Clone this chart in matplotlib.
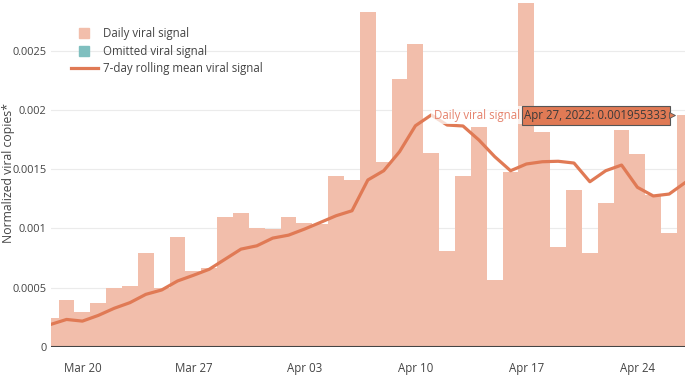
import matplotlib
matplotlib.use('Agg')
import matplotlib.pyplot as plt
import matplotlib.dates as mdates
import matplotlib.transforms as mtransforms
from matplotlib.lines import Line2D
import pandas as pd

plt.rcParams['font.family'] = ['Open Sans', 'DejaVu Sans']

dates = pd.date_range('2022-03-18', '2022-04-27', freq='D')

daily_signal = [
    0.000246, 0.000392, 0.000297, 0.000367, 0.000494, 0.000511, 0.000788,
    0.000494, 0.000929, 0.000641, 0.000669, 0.001096, 0.001130, 0.001005,
    0.000994, 0.001100, 0.001048, 0.001040, 0.001443, 0.001409, 0.002825,
    0.001563, 0.002262, 0.002557, 0.001634, 0.000812, 0.001443, 0.001859,
    0.000564, 0.001476, 0.002901, 0.001812, 0.000840, 0.001324, 0.000795,
    0.001212, 0.001831, 0.001628, 0.001280, 0.000959, 0.001955333,
]

rolling_mean = [
    0.000189, 0.000231, 0.000217, 0.000265, 0.000325, 0.000373, 0.000443,
    0.000480, 0.000556, 0.000604, 0.000655, 0.000740, 0.000825, 0.000853,
    0.000918, 0.000943, 0.000994, 0.001050, 0.001107, 0.001149, 0.001409,
    0.001487, 0.001648, 0.001867, 0.001958, 0.001873, 0.001865, 0.001747,
    0.001606, 0.001487, 0.001544, 0.001563, 0.001567, 0.001552, 0.001394,
    0.001487, 0.001535, 0.001347, 0.001274, 0.001290, 0.001386,
]

y_ticks = [0, 0.0005, 0.001, 0.0015, 0.002, 0.0025]
x_ticks = ['2022-03-20', '2022-03-27', '2022-04-03', '2022-04-10',
           '2022-04-17', '2022-04-24']

hover_date = dates[-1]
hover_value = daily_signal[-1]

BAR = '#F2BEAB'
LINE = '#E07A55'
TEAL = '#7FBFBF'
TXT = '#444444'

fig = plt.figure(figsize=(6.88, 3.78), dpi=100)
ax = fig.add_axes([50.7 / 688, 1 - 346.8 / 378, (685 - 50.7) / 688, 346.8 / 378])

ax.bar(dates, daily_signal, width=1.0, color=BAR, align='center', zorder=2)
ax.plot(dates, rolling_mean, color=LINE, linewidth=2.3, zorder=3,
        solid_joinstyle='round')

ax.set_xlim(dates[0], dates[-1])
ax.set_ylim(0, 0.002929)

ax.set_yticks(y_ticks)
ax.set_yticklabels([f'{v:g}' for v in y_ticks])
ax.set_xticks(pd.to_datetime(x_ticks))
ax.xaxis.set_major_formatter(mdates.DateFormatter('%b %d'))

ax.grid(axis='y', color='#EBEBEB', linewidth=0.8, zorder=0)
ax.axhline(0, color=TXT, linewidth=1.5, zorder=4)
for s in ax.spines.values():
    s.set_visible(False)
ax.tick_params(axis='both', length=0, labelsize=8.3, colors=TXT)
ax.tick_params(axis='y', labelsize=7.9, pad=3)
ax.tick_params(axis='x', pad=11)

ax.set_ylabel('Normalized viral copies*', fontsize=8.8, color=TXT, va='center')
ax.yaxis.set_label_coords((9 - 50.7) / 634.3, 0.5)

handles = [
    Line2D([], [], marker='s', linestyle='none', markersize=7.5,
           markerfacecolor=BAR, markeredgecolor=BAR),
    Line2D([], [], marker='s', linestyle='none', markersize=7.5,
           markerfacecolor=TEAL, markeredgecolor=TEAL),
    Line2D([], [], color=LINE, linewidth=2.3),
]
labels = ['Daily viral signal', 'Omitted viral signal',
          '7-day rolling mean viral signal']
leg = ax.legend(handles, labels, loc='upper left',
                bbox_to_anchor=(71 / 688, 1 - 27 / 378),
                bbox_transform=fig.transFigure, frameon=False,
                fontsize=8.3, handlelength=2.3, handletextpad=0.5,
                labelspacing=0.4, borderaxespad=0, borderpad=0)
for t in leg.get_texts():
    t.set_color(TXT)

# hover label on the last day
ax.annotate(f'{hover_date.strftime("%b %d, %Y").replace(" 0", " ")}: {hover_value}',
            xy=(hover_date, hover_value), xytext=(-13, 0),
            textcoords='offset points', ha='right', va='center',
            fontsize=8.3, color='#3a3a3a', zorder=6,
            bbox=dict(boxstyle='square,pad=0.25', fc=LINE, ec='#555555', lw=0.8))
tri = mtransforms.offset_copy(ax.transData, fig=fig, x=-9.4, y=0, units='points')
ax.plot([hover_date], [hover_value], marker='>', markersize=5, color=LINE,
        markeredgecolor='#555555', markeredgewidth=0.6, transform=tri,
        zorder=7, clip_on=False)
ax.annotate('Daily viral signal', xy=(hover_date, hover_value),
            xytext=(-119, 0), textcoords='offset points', ha='right',
            va='center', fontsize=8.3, color='#E5826C', zorder=5,
            bbox=dict(boxstyle='square,pad=0.2', fc='white', ec='none',
                      alpha=0.75))

fig.savefig('out.png', dpi=100)
